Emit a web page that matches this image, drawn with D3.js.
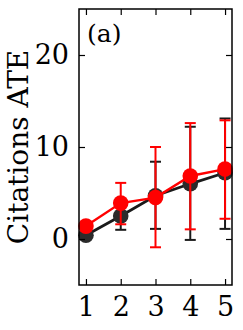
<!DOCTYPE html>
<html>
<head>
<meta charset="utf-8">
<script src="https://cdn.jsdelivr.net/npm/d3@7"></script>
<style>
  body { margin: 0; background: #fff; }
  svg text { font-family: "DejaVu Serif", serif; }
</style>
</head>
<body>
<script>
// data
var xs = [1, 2, 3, 4, 5];
var blackMean = [0.4, 2.5, 4.7, 6.0, 7.2];
var blackLo   = [0.0, 1.0, 1.1, -0.1, 1.1];
var blackHi   = [0.8, 4.0, 8.4, 12.2, 13.1];
var redMean   = [1.4, 3.9, 4.5, 6.85, 7.6];
var redLo     = [1.0, 1.6, -0.9, 1.05, 2.2];
var redHi     = [1.8, 6.1, 10.0, 12.6, 12.9];
var yTicks = [0, 10, 20];

var width = 243, height = 330;
var m = {left: 79, right: 11, top: 9, bottom: 45};

var svg = d3.select("body").append("svg")
    .attr("width", width)
    .attr("height", height);

var x = d3.scaleLinear().domain([0.8, 5.2]).range([m.left, width - m.right]);
var y = d3.scaleLinear().domain([-5, 25]).range([height - m.bottom, m.top]);

function drawSeries(mean, lo, hi, col, dotCol, lw) {
  var g = svg.append("g");
  // error bars
  xs.forEach(function(v, i) {
    var cx = x(v);
    g.append("line")
      .attr("x1", cx).attr("x2", cx)
      .attr("y1", y(lo[i])).attr("y2", y(hi[i]))
      .attr("stroke", col).attr("stroke-width", 2);
    [lo[i], hi[i]].forEach(function(e) {
      g.append("line")
        .attr("x1", cx - 5.5).attr("x2", cx + 5.5)
        .attr("y1", y(e)).attr("y2", y(e))
        .attr("stroke", col).attr("stroke-width", 2);
    });
  });
  var line = d3.line()
    .x(function(d, i) { return x(xs[i]); })
    .y(function(d) { return y(d); });
  g.append("path")
    .datum(mean)
    .attr("d", line)
    .attr("fill", "none")
    .attr("stroke", col)
    .attr("stroke-width", lw);
  g.selectAll("circle")
    .data(mean)
    .enter().append("circle")
    .attr("cx", function(d, i) { return x(xs[i]); })
    .attr("cy", function(d) { return y(d); })
    .attr("r", 7.8)
    .attr("fill", dotCol);
}

drawSeries(blackMean, blackLo, blackHi, "#1a1a1a", "#2b2b2b", 2.8);
drawSeries(redMean, redLo, redHi, "#f00", "#f00", 2.4);

// axes, ticks pointing in, on all four sides
var tl = 6;
svg.append("g")
  .attr("transform", "translate(0," + (height - m.bottom) + ")")
  .call(d3.axisBottom(x).tickValues(xs).tickFormat(d3.format("d")).tickSizeInner(-tl).tickSizeOuter(0).tickPadding(12))
  .call(function(g) { g.select(".domain").remove(); });
svg.append("g")
  .attr("transform", "translate(0," + m.top + ")")
  .call(d3.axisTop(x).tickValues(xs).tickSizeInner(-tl).tickSizeOuter(0).tickFormat(""))
  .call(function(g) { g.select(".domain").remove(); });
svg.append("g")
  .attr("transform", "translate(" + m.left + ",0)")
  .call(d3.axisLeft(y).tickValues(yTicks).tickFormat(d3.format("d")).tickSizeInner(-tl).tickSizeOuter(0).tickPadding(10))
  .call(function(g) { g.select(".domain").remove(); });
svg.append("g")
  .attr("transform", "translate(" + (width - m.right) + ",0)")
  .call(d3.axisRight(y).tickValues(yTicks).tickSizeInner(-tl).tickSizeOuter(0).tickFormat(""))
  .call(function(g) { g.select(".domain").remove(); });

svg.selectAll(".tick text")
  .attr("fill", "#000")
  .style("font-family", "DejaVu Serif")
  .style("font-size", "27px");
svg.selectAll(".tick line").attr("stroke", "#000").attr("stroke-width", 1.2);

svg.append("rect")
  .attr("x", m.left).attr("y", m.top)
  .attr("width", width - m.left - m.right)
  .attr("height", height - m.top - m.bottom)
  .attr("fill", "none")
  .attr("stroke", "#000")
  .attr("stroke-width", 1.5);

svg.append("text")
  .attr("transform", "translate(28," + ((m.top + height - m.bottom) / 2 - 0) + ") rotate(-90)")
  .attr("text-anchor", "middle")
  .style("font-size", "28px")
  .text("Citations ATE");

svg.append("text")
  .attr("x", 87).attr("y", 42)
  .style("font-size", "25px")
  .text("(a)");
</script>
</body>
</html>
